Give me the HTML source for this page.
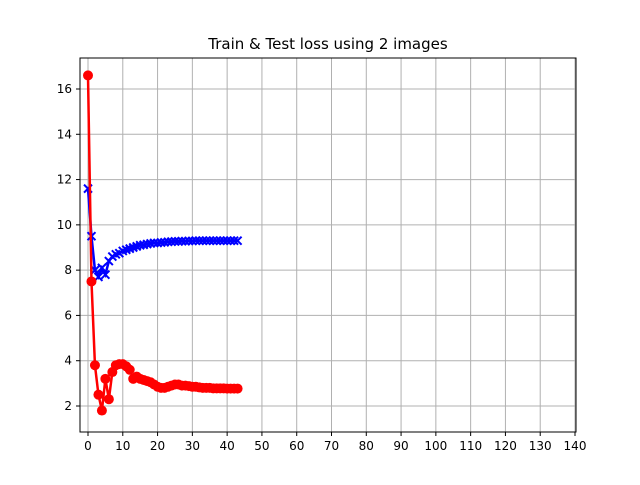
<!DOCTYPE html>
<html><head><meta charset="utf-8"><style>
body{margin:0;background:#fff;font-family:"Liberation Sans","DejaVu Sans",sans-serif}
svg text{font-family:"DejaVu Sans","Liberation Sans",sans-serif}
</style></head><body>
<svg id="chart" width="640" height="480" xmlns="http://www.w3.org/2000/svg">
<rect width="640" height="480" fill="#fff"/>
<text x="328" y="49" font-size="15" text-anchor="middle">Train &amp; Test loss using 2 images</text>
<g id="grid"></g><g id="series"></g>
<rect x="80" y="58" width="496" height="374" fill="none" stroke="#000" stroke-width="1"/>
<g id="axes"></g>
</svg>
<script>
const xTicks=[0,10,20,30,40,50,60,70,80,90,100,110,120,130,140];
const yTicks=[2,4,6,8,10,12,14,16];
const epochs=[0,1,2,3,4,5,6,7,8,9,10,11,12,13,14,15,16,17,18,19,20,21,22,23,24,25,26,27,28,29,30,31,32,33,34,35,36,37,38,39,40,41,42,43];
const trainLoss=[16.6,7.5,3.8,2.5,1.8,3.2,2.3,3.5,3.8,3.85,3.85,3.75,3.6,3.2,3.3,3.2,3.15,3.1,3.05,2.95,2.85,2.8,2.8,2.85,2.9,2.95,2.95,2.9,2.9,2.88,2.85,2.85,2.82,2.8,2.8,2.8,2.78,2.78,2.78,2.78,2.77,2.77,2.77,2.77];
const testLoss=[11.6,9.5,8.0,7.7,8.1,7.8,8.4,8.6,8.7,8.75,8.85,8.9,8.95,9.0,9.05,9.1,9.12,9.15,9.18,9.2,9.2,9.22,9.23,9.25,9.26,9.27,9.27,9.28,9.28,9.29,9.29,9.3,9.3,9.3,9.3,9.3,9.3,9.3,9.3,9.3,9.3,9.3,9.3,9.3];
const NS="http://www.w3.org/2000/svg";
const X=v=>88+v*(575-88)/140;
const Y=v=>406-(v-2)*(406-89)/14;
function mk(t,a,p){const e=document.createElementNS(NS,t);for(const k in a)e.setAttribute(k,a[k]);p.appendChild(e);return e;}
const grid=document.getElementById('grid'),axes=document.getElementById('axes'),ser=document.getElementById('series');
xTicks.forEach(t=>{
 const g=mk('line',{x1:X(t),x2:X(t),y1:58,y2:432,stroke:'#b0b0b0','stroke-width':1},grid);
 
 
 mk('line',{x1:X(t),x2:X(t),y1:432,y2:436,stroke:'#000'},axes);
 const l=mk('text',{x:X(t),y:450,'font-size':12,'text-anchor':'middle'},axes);l.textContent=t;
 
 
});
yTicks.forEach(t=>{
 const g=mk('line',{x1:80,x2:576,y1:Y(t),y2:Y(t),stroke:'#b0b0b0','stroke-width':1},grid);
 
 
 mk('line',{x1:76,x2:80,y1:Y(t),y2:Y(t),stroke:'#000'},axes);
 const l=mk('text',{x:72,y:Y(t)+4,'font-size':12,'text-anchor':'end'},axes);l.textContent=t;
 
 
});
function pts(a){return epochs.map((e,i)=>X(e)+','+Y(a[i])).join(' ');}
const tl=mk('polyline',{points:pts(testLoss),fill:'none',stroke:'#0000ff','stroke-width':2.5},ser);


epochs.forEach((e,i)=>{const x=X(e),y=Y(testLoss[i]),s=4;
 const p=mk('path',{d:`M${x-s},${y-s}L${x+s},${y+s}M${x-s},${y+s}L${x+s},${y-s}`,stroke:'#0000ff','stroke-width':2},ser);
 
 
});
const rl=mk('polyline',{points:pts(trainLoss),fill:'none',stroke:'#ff0000','stroke-width':2.5},ser);


epochs.forEach((e,i)=>{
 const c=mk('circle',{cx:X(e),cy:Y(trainLoss[i]),r:5,fill:'#ff0000'},ser);
 
 
});
</script>
</body></html>
